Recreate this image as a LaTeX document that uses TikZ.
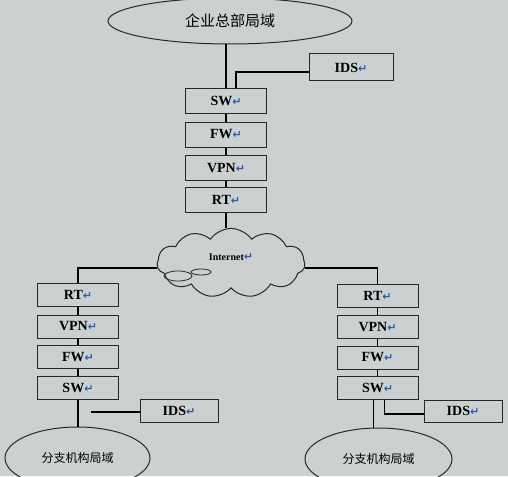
\documentclass[tikz,border=0pt]{standalone}
\usepackage{fontspec}
\setmainfont{Liberation Serif}
\newfontfamily\cjk{Noto Sans CJK SC}
\newfontfamily\symfont{DejaVu Sans}
\usepackage{xcolor}
\definecolor{paper}{RGB}{204,208,208}
\definecolor{ink}{RGB}{40,40,40}
\definecolor{mark}{RGB}{45,90,170}
\usepackage{tikz}
\usetikzlibrary{shapes.geometric, shapes.symbols, positioning}
\newcommand{\retmark}{{\symfont\bfseries\color{mark}\fontsize{11}{11}\selectfont ↵}}
\tikzstyle{box} = [
    rectangle, text centered,
    draw=ink, line width=1pt,
    minimum width=81pt,
    minimum height=24pt,
    inner sep=0pt,
    font=\bfseries\fontsize{14}{16}\selectfont,
]
\tikzstyle{lan} = [
    ellipse, draw=ink, line width=1pt,
    inner sep=0pt,
    font=\cjk\fontsize{12}{12}\selectfont,
]
\tikzstyle{link} = [draw=black, line width=1.4pt]

\begin{document}
\begin{tikzpicture}[x=1pt,y=-1pt]
    \clip (0,0) rectangle (508,476);
    \fill[paper] (0,0) rectangle (508,476);

    % headquarters
    \node (hq) at (230,21) [lan, minimum width=244pt, minimum height=46pt, font=\cjk\fontsize{15}{15}\selectfont] {\raisebox{-9pt}{企业总部局域}};
    \node (hqIDS) at (351,67.5) [box, minimum width=84pt, minimum height=27pt] {IDS\retmark};
    \foreach \name/\y in {SW/101, FW/134.5, VPN/168, RT/200} {
        \node (hq\name) at (226,\y) [box, minimum height=25pt] {\name\retmark};
    }

    % internet
    \node (net) at (231,263) [cloud, draw=ink, line width=1pt, cloud puffs=11, cloud puff arc=110,
        minimum width=148pt, minimum height=56pt, inner sep=0pt, font=\bfseries\fontsize{10}{10}\selectfont] {\raisebox{12pt}{Internet\retmark}};
    \draw[ink, line width=0.8pt] (178,276) ellipse [x radius=14, y radius=5];
    \draw[ink, line width=0.8pt] (201,272) ellipse [x radius=10, y radius=3];

    % branches
    \foreach \name/\y in {RT/295, VPN/326.5, FW/357, SW/387.5} {
        \node (l\name) at (78,\y) [box, minimum height=23pt] {\name\retmark};
        \node (r\name) at (377.5,\y+0.5) [box, minimum height=23pt] {\name\retmark};
    }
    \node (lIDS) at (179,410.5) [box, minimum width=78pt, minimum height=23pt] {IDS\retmark};
    \node (rIDS) at (463,411) [box, minimum width=78pt, minimum height=22pt] {IDS\retmark};
    \node (llan) at (77.5,458) [lan, minimum width=145pt, minimum height=62pt] {分支机构局域};
    \node (rlan) at (378.5,459) [lan, minimum width=147pt, minimum height=62pt] {分支机构局域};
    \coordinate (lidsend) at (91,412);

    % links
    \draw[link] (hqSW.north) -- (hqSW.north |- hq.south);
    \draw[link] (hqIDS.west) ++(0,4.5) -| ([xshift=10pt]hqSW.north);
    \draw[link] (hqSW) -- (hqFW);
    \draw[link] (hqFW) -- (hqVPN);
    \draw[link] (hqVPN) -- (hqRT);
    \draw[link] (hqRT.south) -- (hqRT.south |- net.north);
    \draw[link] (lRT.north) |- ([yshift=-5pt]net.west);
    \draw[link] (rRT.north) |- ([yshift=-5pt]net.east);
    \foreach \a/\b in {RT/VPN, VPN/FW, FW/SW} {
        \draw[link] (l\a) -- (l\b);
        \draw[link] (r\a) -- (r\b);
    }
    \draw[link] (lSW.south) -- (lSW.south |- llan.north);
    \draw[link] (lIDS.west) ++(0,1.5) -- (lidsend);
    \draw[link] ([xshift=-4pt]rSW.south) -- ([xshift=-4pt]rSW.south |- rlan.north);
    \draw[link] (rIDS.west) ++(0,3) -| ([xshift=7pt]rSW.south);
\end{tikzpicture}
\end{document}
